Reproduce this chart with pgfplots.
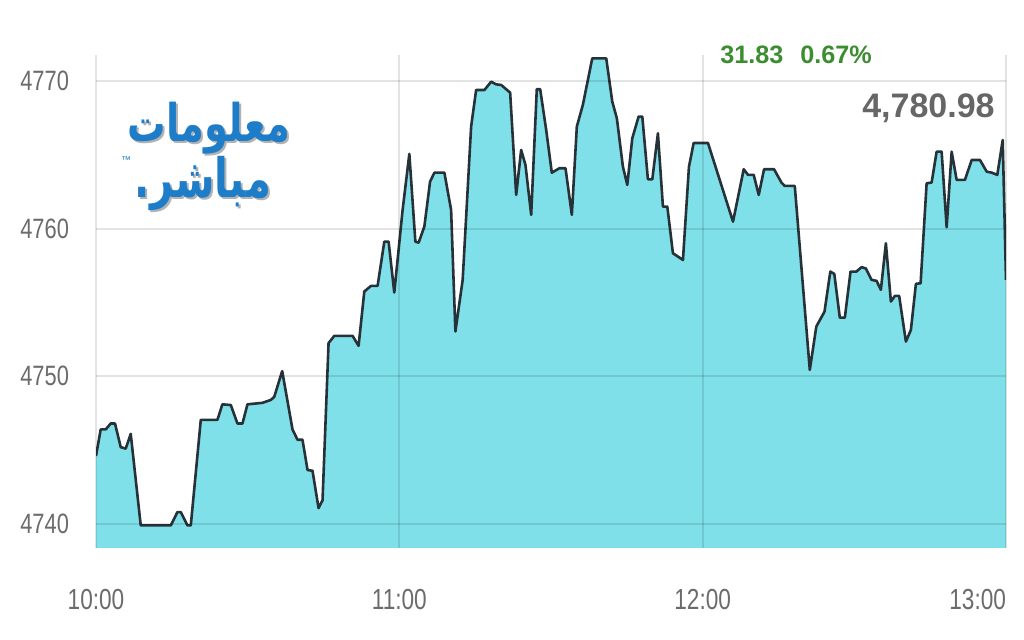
\documentclass[border=0pt]{standalone}
\usepackage{pgfplots}
\pgfplotsset{compat=1.18}
\usepackage{pgfplotstable}
\usepackage{graphicx}
\usepackage{fontspec}
\setmainfont{Liberation Sans}
\newfontfamily\condfont[FakeStretch=0.78]{Liberation Sans}
\newfontfamily\arabicfont[Script=Arabic]{DejaVu Sans}
\TeXXeTstate=1
\definecolor{fillc}{HTML}{80E0EA}
\definecolor{linec}{HTML}{263238}
\definecolor{tickc}{HTML}{6B6B6B}
\definecolor{greenc}{HTML}{3C8C30}
\definecolor{pricec}{HTML}{666666}
\definecolor{logoblue}{HTML}{1E7DC8}

\pgfplotstableread{
m v
0 4744.6
0.93 4746.4
1.92 4746.4
2.91 4746.8
3.76 4746.8
4.89 4745.2
5.88 4745.1
6.87 4746.1
8.85 4739.9
14.79 4739.9
16.1 4740.8
16.77 4740.8
18.08 4739.9
18.75 4739.9
20.73 4747.05
24.02 4747.05
25.0 4748.1
26.67 4748.05
27.98 4746.8
28.97 4746.8
29.96 4748.1
32.93 4748.2
34.59 4748.4
35.25 4748.6
36.83 4750.35
38.87 4746.4
39.86 4745.7
40.85 4745.7
41.84 4743.65
42.83 4743.6
44.02 4741.07
44.81 4741.6
46.0 4752.24
47.13 4752.74
50.75 4752.74
51.94 4752.06
53.07 4755.74
54.4 4756.12
55.7 4756.12
57.03 4759.12
57.88 4759.12
59.0 4755.67
60.65 4761.27
61.98 4765.06
63.17 4759.12
63.82 4759.05
64.95 4760.14
66.08 4763.18
66.93 4763.79
68.91 4763.79
70.24 4761.27
71.09 4753.03
72.53 4756.53
74.2 4766.91
75.19 4769.39
76.83 4769.39
78.16 4769.95
79.15 4769.77
80.14 4769.73
81.92 4769.21
83.11 4762.28
84.1 4765.33
84.95 4764.31
86.08 4760.93
87.19 4769.44
87.86 4769.44
89.05 4766.68
90.16 4763.79
91.68 4764.09
92.87 4764.09
94.12 4760.93
95.11 4766.91
96.3 4768.38
98.16 4771.53
100.93 4771.53
102.12 4768.6
103.03 4767.47
104.22 4764.2
105.09 4762.96
106.08 4766.12
107.33 4767.59
108.06 4767.59
109.17 4763.34
110.04 4763.34
111.15 4766.46
112.14 4761.49
113.01 4761.49
114.12 4758.33
116.1 4757.88
117.29 4764.2
118.22 4765.8
121.05 4765.8
126.0 4760.47
128.12 4764.02
128.97 4763.64
130.1 4763.64
131.09 4762.28
132.14 4764.02
134.12 4764.02
135.58 4763.12
136.24 4762.89
138.22 4762.89
141.19 4750.43
142.48 4753.37
144.1 4754.38
145.25 4757.09
146.04 4756.93
147.13 4753.97
148.12 4753.97
149.25 4757.09
150.4 4757.09
151.43 4757.39
152.28 4757.3
153.41 4756.53
154.4 4756.46
155.25 4755.85
156.24 4759.01
157.23 4755.06
158.02 4755.44
158.87 4755.44
160.2 4752.35
161.19 4753.14
162.18 4756.26
163.11 4756.3
164.3 4763.07
165.29 4763.12
166.28 4765.21
167.27 4765.21
168.26 4760.09
169.25 4765.21
170.24 4763.3
171.88 4763.3
173.21 4764.65
174.85 4764.65
176.18 4763.86
177.17 4763.79
178.28 4763.64
179.35 4766.0
180.0 4756.53
}\data

\begin{document}
\begin{tikzpicture}
\path[use as bounding box] (0,0) rectangle (512pt,320pt);
\begin{axis}[
  at={(48pt,46pt)}, anchor=south west,
  scale only axis, width=455pt, height=246.5pt,
  xmin=0, xmax=180, ymin=4738.37, ymax=4771.76,
  axis line style={draw=none},
  xtick={0,60,120,180},
  xticklabels={10:00,11:00,12:00,\makebox[0pt][r]{13:00}},
  ytick={4740,4750,4760,4770},
  yticklabels={4740,4750,4760,4770},
  major tick length=0pt,
  grid=major,
  grid style={black, opacity=0.11, line width=1.1pt},
  axis on top,
  tick label style={font=\condfont\fontsize{14}{16}\selectfont, text=tickc},
  xticklabel style={yshift=-17pt, font=\condfont\fontsize{14.5}{16}\selectfont},
  yticklabel style={xshift=-10pt},
]
\addplot[fill=fillc, draw=none] table[x=m,y=v]{\data} \closedcycle;
\addplot[linec, line width=1.3pt, line join=round] table[x=m,y=v]{\data};
\end{axis}
% logo
\node[text=black!30] at (105.5pt,255pt) {\resizebox{81pt}{!}{\scalebox{1}[1.35]{\arabicfont\bfseries\beginR معلومات\endR}}};
\node[text=logoblue] at (104.5pt,256pt) {\resizebox{81pt}{!}{\scalebox{1}[1.35]{\arabicfont\bfseries\beginR معلومات\endR}}};
\node[text=black!30] at (102.5pt,227pt) {\resizebox{68pt}{!}{\scalebox{1}[1.35]{\arabicfont\bfseries\beginR مباشر.\endR}}};
\node[text=logoblue] at (101.5pt,228pt) {\resizebox{68pt}{!}{\scalebox{1}[1.35]{\arabicfont\bfseries\beginR مباشر.\endR}}};
\node[text=logoblue, font=\fontsize{5}{5}\selectfont] at (63pt,240pt) {™};
% header values
\node[anchor=west, inner sep=0pt, text=greenc, font=\bfseries\fontsize{12.6}{14}\selectfont] at (360pt,292.5pt) {31.83};
\node[anchor=west, inner sep=0pt, text=greenc, font=\bfseries\fontsize{12.6}{14}\selectfont] at (400pt,292.5pt) {0.67\%};
\node[anchor=east, inner sep=0pt, text=pricec, font=\bfseries\fontsize{17}{19}\selectfont] at (497.5pt,266pt) {4,780.98};
\end{tikzpicture}
\end{document}
